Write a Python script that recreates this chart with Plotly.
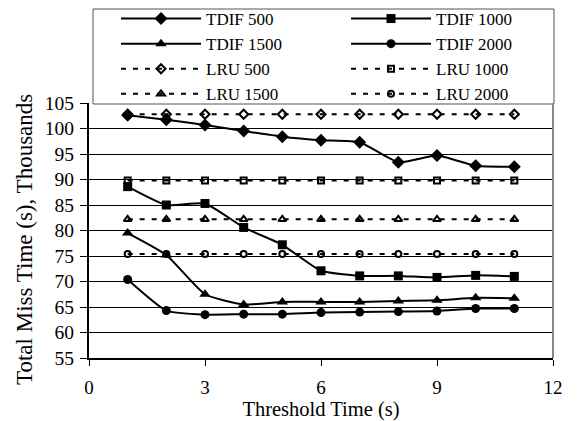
import plotly.graph_objects as go

threshold = [1, 2, 3, 4, 5, 6, 7, 8, 9, 10, 11]
tdif_500 = [102.6, 101.7, 100.7, 99.5, 98.4, 97.7, 97.3, 93.4, 94.7, 92.7, 92.5]
tdif_1000 = [88.6, 85.0, 85.3, 80.6, 77.2, 72.1, 71.1, 71.1, 70.8, 71.2, 71.0]
tdif_1500 = [79.5, 75.2, 67.5, 65.5, 66.0, 66.0, 66.0, 66.2, 66.3, 66.8, 66.7]
tdif_2000 = [70.4, 64.3, 63.5, 63.6, 63.6, 63.9, 64.0, 64.1, 64.2, 64.7, 64.7]
lru_500 = [102.8] * 11
lru_1000 = [89.8] * 11
lru_1500 = [82.2] * 11
lru_2000 = [75.4] * 11

FONT = "Liberation Serif, Times New Roman, serif"

fig = go.Figure()

solid = [
    ("TDIF 500", tdif_500, "diamond", 10, "legend"),
    ("TDIF 1000", tdif_1000, "square", 9, "legend2"),
    ("TDIF 1500", tdif_1500, "triangle-up", 10, "legend"),
    ("TDIF 2000", tdif_2000, "circle", 9, "legend2"),
]
dashed = [
    ("LRU 500", lru_500, "diamond-open", 7, "legend"),
    ("LRU 1000", lru_1000, "square-open", 6, "legend2"),
    ("LRU 1500", lru_1500, "triangle-up-open", 7, "legend"),
    ("LRU 2000", lru_2000, "circle-open", 6, "legend2"),
]

for name, ys, sym, sz, lg in solid:
    fig.add_trace(go.Scatter(
        x=threshold, y=ys, name=name, mode="lines+markers", legend=lg,
        line=dict(color="black", width=2, shape="spline", smoothing=0.5),
        marker=dict(symbol=sym, size=sz, color="black"),
    ))
for name, ys, sym, sz, lg in dashed:
    fig.add_trace(go.Scatter(
        x=threshold, y=ys, name=name, mode="lines+markers", legend=lg,
        line=dict(color="black", width=2, dash="5px,7px"),
        marker=dict(symbol=sym, size=sz, color="black", line=dict(width=2, color="black")),
    ))

PW, PH, L, B = 464, 255, 89, 358

def px_x(p):
    return (p - L) / PW

def px_y(p):
    return (B - p) / PH

# legend box (drawn as a shape)
fig.add_shape(type="rect", xref="paper", yref="paper",
              x0=px_x(93), x1=px_x(554), y0=px_y(104), y1=px_y(9),
              line=dict(color="#555555", width=1), fillcolor="white", layer="above")

leg_common = dict(
    orientation="v", xanchor="left", yanchor="top",
    itemwidth=80, bgcolor="rgba(0,0,0,0)", borderwidth=0,
    font=dict(family=FONT, size=17, color="black"),
    tracegroupgap=0,
)

fig.update_layout(
    width=583, height=421,
    margin=dict(l=89, r=30, t=103, b=63, autoexpand=False),
    paper_bgcolor="white", plot_bgcolor="white",
    font=dict(family=FONT, size=19, color="black"),
    showlegend=True,
    legend=dict(x=px_x(116), y=px_y(1), **leg_common),
    legend2=dict(x=px_x(346), y=px_y(1), **leg_common),
    xaxis=dict(
        range=[0, 12], tickvals=[0, 3, 6, 9, 12],
        showgrid=False, zeroline=False,
        showline=True, linecolor="black", linewidth=2,
        ticks="outside", ticklen=6, tickcolor="black", tickwidth=1,
        ticklabelstandoff=5,
        title=dict(text="Threshold Time (s)", standoff=9, font=dict(size=20.5)),
        tickfont=dict(size=19),
    ),
    yaxis=dict(
        range=[55, 105], tickvals=[55, 60, 65, 70, 75, 80, 85, 90, 95, 100, 105],
        showgrid=True, gridcolor="black", gridwidth=1, zeroline=False,
        showline=True, linecolor="black", linewidth=2,
        ticks="outside", ticklen=7, tickcolor="black", tickwidth=1,
        ticklabelstandoff=2,
        tickfont=dict(size=19.5),
    ),
    annotations=[dict(
        text="Total Miss Time (s), Thousands", textangle=-90,
        xref="paper", yref="paper", x=px_x(24), y=px_y(240),
        xanchor="center", yanchor="middle", showarrow=False,
        font=dict(family=FONT, size=23, color="black"),
    )],
)

# right border of plot area
fig.add_shape(type="line", xref="paper", yref="paper", x0=1, x1=1, y0=0, y1=1,
              line=dict(color="#888888", width=2))

fig.write_html("out.html", config={"displayModeBar": False},
               post_script="document.body.style.margin='0';")
